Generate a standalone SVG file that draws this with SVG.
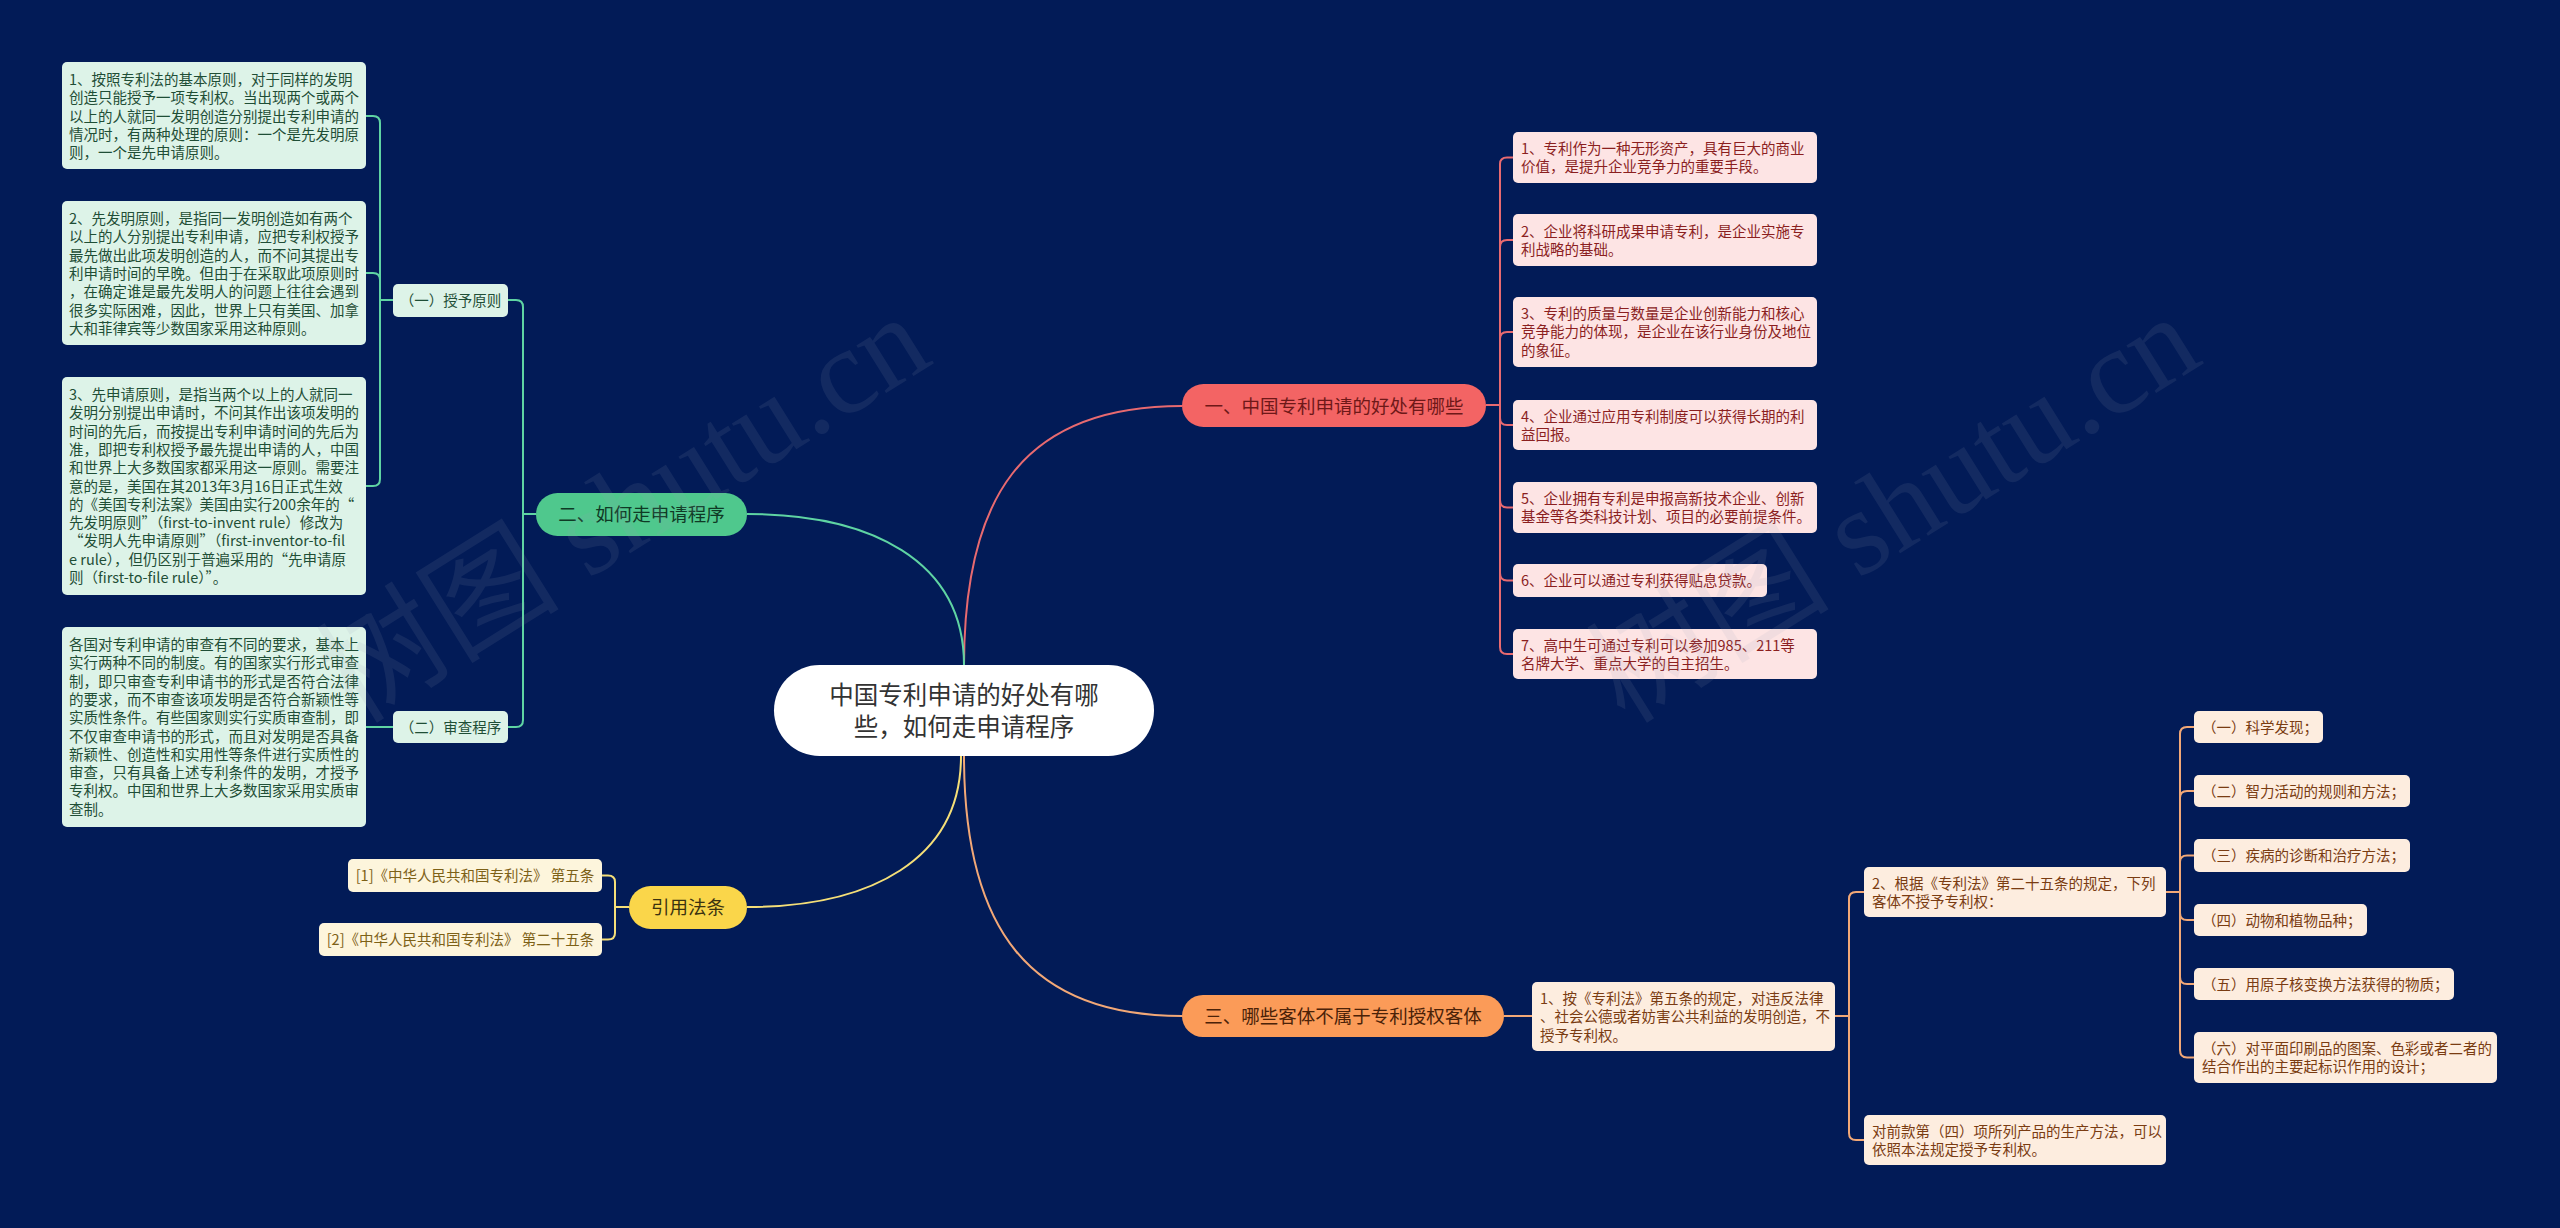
<svg xmlns="http://www.w3.org/2000/svg" width="2560" height="1228" viewBox="0 0 2560 1228">
<style>
text{font-family:'Noto Sans CJK SC','Noto Sans',sans-serif;}
.t{font-size:14.5px;}
.l1{font-size:18.5px;text-anchor:middle;}
.ln{fill:none;stroke-width:2;}
.lr{stroke:#e86a70;}
.lg{stroke:#5fd4a3;}
.ly{stroke:#f5df78;}
.lo{stroke:#f2a877;}
.br{fill:#fde4e4;}
.tr{fill:#8b1f1f;}
.bgr{fill:#ddf3e8;}
.tg{fill:#1f4e36;}
.by{fill:#fdf5dc;}
.ty{fill:#7d6117;}
.bo{fill:#fdeddf;}
.to{fill:#7a3c12;}
.wm{font-family:'Liberation Serif','Noto Sans CJK SC',serif;font-size:122px;fill:#9aa3b8;opacity:0.11;}
</style>
<rect width="2560" height="1228" fill="#021b57"/>

<g id="connectors">
<path class="ln lr" d="M964,666 C964,500 1020,406 1182,406"/>
<path class="ln lg" d="M747,514 C870,514 964,560 964,665"/>
<path class="ln ly" d="M747,907 C870,907 961,860 961,756"/>
<path class="ln lo" d="M964,756 C964,930 1030,1016 1182,1016"/>
<path class="ln lr" d="M1486,405 H1500 V164 Q1500,157.5 1507,157.5 H1513"/>
<path class="ln lr" d="M1486,405 H1500 V247 Q1500,240 1507,240 H1513"/>
<path class="ln lr" d="M1486,405 H1500 V339 Q1500,332 1507,332 H1513"/>
<path class="ln lr" d="M1486,405 H1500 V418 Q1500,425 1507,425 H1513"/>
<path class="ln lr" d="M1486,405 H1500 V500 Q1500,507.5 1507,507.5 H1513"/>
<path class="ln lr" d="M1486,405 H1500 V573 Q1500,580.5 1507,580.5 H1513"/>
<path class="ln lr" d="M1486,405 H1500 V647 Q1500,654 1507,654 H1513"/>
<path class="ln lg" d="M536,514 H523 V307 Q523,300 516,300 H508"/>
<path class="ln lg" d="M536,514 H523 V720 Q523,727 516,727 H508"/>
<path class="ln lg" d="M393,300 H380 V123 Q380,116 373,116 H366"/>
<path class="ln lg" d="M393,300 H380 V280 Q380,273 373,273 H366"/>
<path class="ln lg" d="M393,300 H380 V479 Q380,486 373,486 H366"/>
<path class="ln lg" d="M393,727 H366"/>
<path class="ln ly" d="M629,907 H615 V882 Q615,875.5 608,875.5 H602"/>
<path class="ln ly" d="M629,907 H615 V933 Q615,939.5 608,939.5 H602"/>
<path class="ln lo" d="M1504,1016 H1532"/>
<path class="ln lo" d="M1835,1016 H1849 V899 Q1849,892 1856,892 H1864"/>
<path class="ln lo" d="M1835,1016 H1849 V1133 Q1849,1140 1856,1140 H1864"/>
<path class="ln lo" d="M2166,892 H2180 V734 Q2180,727 2187,727 H2194"/>
<path class="ln lo" d="M2166,892 H2180 V798 Q2180,791 2187,791 H2194"/>
<path class="ln lo" d="M2166,892 H2180 V862 Q2180,855.5 2187,855.5 H2194"/>
<path class="ln lo" d="M2166,892 H2180 V913 Q2180,920 2187,920 H2194"/>
<path class="ln lo" d="M2166,892 H2180 V977 Q2180,984 2187,984 H2194"/>
<path class="ln lo" d="M2166,892 H2180 V1050 Q2180,1057.5 2187,1057.5 H2194"/>
</g>

<g id="root">
<rect x="774" y="665" width="380" height="91" rx="45.5" fill="#ffffff"/>
<text x="964" y="704" font-size="24.5" text-anchor="middle" fill="#333333">中国专利申请的好处有哪</text>
<text x="964" y="736" font-size="24.5" text-anchor="middle" fill="#333333">些，如何走申请程序</text>
</g>

<g id="n-red">
<rect x="1182" y="384" width="304" height="43" rx="21.5" fill="#f36464"/>
<text class="l1" x="1334" y="412.5" fill="#6e1818">一、中国专利申请的好处有哪些</text>
</g>
<g id="r1"><rect class="br" x="1513" y="132" width="304" height="51" rx="5"/>
<text class="t tr"><tspan x="1521" y="154">1、专利作为一种无形资产，具有巨大的商业</tspan><tspan x="1521" y="172.3">价值，是提升企业竞争力的重要手段。</tspan></text></g>
<g id="r2"><rect class="br" x="1513" y="214" width="304" height="52" rx="5"/>
<text class="t tr"><tspan x="1521" y="236.5">2、企业将科研成果申请专利，是企业实施专</tspan><tspan x="1521" y="254.8">利战略的基础。</tspan></text></g>
<g id="r3"><rect class="br" x="1513" y="297" width="304" height="70" rx="5"/>
<text class="t tr"><tspan x="1521" y="319">3、专利的质量与数量是企业创新能力和核心</tspan><tspan x="1521" y="337.3">竞争能力的体现，是企业在该行业身份及地位</tspan><tspan x="1521" y="355.6">的象征。</tspan></text></g>
<g id="r4"><rect class="br" x="1513" y="400" width="304" height="50" rx="5"/>
<text class="t tr"><tspan x="1521" y="421.5">4、企业通过应用专利制度可以获得长期的利</tspan><tspan x="1521" y="439.8">益回报。</tspan></text></g>
<g id="r5"><rect class="br" x="1513" y="482" width="304" height="51" rx="5"/>
<text class="t tr"><tspan x="1521" y="504">5、企业拥有专利是申报高新技术企业、创新</tspan><tspan x="1521" y="522.3">基金等各类科技计划、项目的必要前提条件。</tspan></text></g>
<g id="r6"><rect class="br" x="1513" y="564" width="254" height="33" rx="5"/>
<text class="t tr" x="1521" y="586">6、企业可以通过专利获得贴息贷款。</text></g>
<g id="r7"><rect class="br" x="1513" y="629" width="304" height="50" rx="5"/>
<text class="t tr"><tspan x="1521" y="650.5">7、高中生可通过专利可以参加985、211等</tspan><tspan x="1521" y="668.8">名牌大学、重点大学的自主招生。</tspan></text></g>

<g id="n-green">
<rect x="536" y="493" width="211" height="43" rx="21.5" fill="#4fc88d"/>
<text class="l1" x="641.5" y="521" fill="#0f3a25">二、如何走申请程序</text>
</g>
<g id="g-a"><rect class="bgr" x="393" y="284" width="115" height="33" rx="5"/>
<text class="t tg" x="450.5" y="305.5" text-anchor="middle">（一）授予原则</text></g>
<g id="g-b"><rect class="bgr" x="393" y="711" width="115" height="32" rx="5"/>
<text class="t tg" x="450.5" y="732.5" text-anchor="middle">（二）审查程序</text></g>
<g id="g1"><rect class="bgr" x="62" y="62" width="304" height="107" rx="5"/>
<text class="t tg"><tspan x="69" y="85">1、按照专利法的基本原则，对于同样的发明</tspan><tspan x="69" y="103.3">创造只能授予一项专利权。当出现两个或两个</tspan><tspan x="69" y="121.6">以上的人就同一发明创造分别提出专利申请的</tspan><tspan x="69" y="139.9">情况时，有两种处理的原则：一个是先发明原</tspan><tspan x="69" y="158.2">则，一个是先申请原则。</tspan></text></g>
<g id="g2"><rect class="bgr" x="62" y="201" width="304" height="144" rx="5"/>
<text class="t tg"><tspan x="69" y="224">2、先发明原则，是指同一发明创造如有两个</tspan><tspan x="69" y="242.3">以上的人分别提出专利申请，应把专利权授予</tspan><tspan x="69" y="260.6">最先做出此项发明创造的人，而不问其提出专</tspan><tspan x="69" y="278.9">利申请时间的早晚。但由于在采取此项原则时</tspan><tspan x="69" y="297.2">，在确定谁是最先发明人的问题上往往会遇到</tspan><tspan x="69" y="315.5">很多实际困难，因此，世界上只有美国、加拿</tspan><tspan x="69" y="333.8">大和菲律宾等少数国家采用这种原则。</tspan></text></g>
<g id="g3"><rect class="bgr" x="62" y="377" width="304" height="218" rx="5"/>
<text class="t tg"><tspan x="69" y="400">3、先申请原则，是指当两个以上的人就同一</tspan><tspan x="69" y="418.3">发明分别提出申请时，不问其作出该项发明的</tspan><tspan x="69" y="436.6">时间的先后，而按提出专利申请时间的先后为</tspan><tspan x="69" y="454.9">准，即把专利权授予最先提出申请的人，中国</tspan><tspan x="69" y="473.2">和世界上大多数国家都采用这一原则。需要注</tspan><tspan x="69" y="491.5">意的是，美国在其2013年3月16日正式生效</tspan><tspan x="69" y="509.8">的《美国专利法案》美国由实行200余年的“</tspan><tspan x="69" y="528.1">先发明原则”（first-to-invent rule）修改为</tspan><tspan x="69" y="546.4">“发明人先申请原则”（first-inventor-to-fil</tspan><tspan x="69" y="564.7">e rule），但仍区别于普遍采用的“先申请原</tspan><tspan x="69" y="583">则（first-to-file rule）”。</tspan></text></g>
<g id="g4"><rect class="bgr" x="62" y="627" width="304" height="200" rx="5"/>
<text class="t tg"><tspan x="69" y="650">各国对专利申请的审查有不同的要求，基本上</tspan><tspan x="69" y="668.3">实行两种不同的制度。有的国家实行形式审查</tspan><tspan x="69" y="686.6">制，即只审查专利申请书的形式是否符合法律</tspan><tspan x="69" y="704.9">的要求，而不审查该项发明是否符合新颖性等</tspan><tspan x="69" y="723.2">实质性条件。有些国家则实行实质审查制，即</tspan><tspan x="69" y="741.5">不仅审查申请书的形式，而且对发明是否具备</tspan><tspan x="69" y="759.8">新颖性、创造性和实用性等条件进行实质性的</tspan><tspan x="69" y="778.1">审查，只有具备上述专利条件的发明，才授予</tspan><tspan x="69" y="796.4">专利权。中国和世界上大多数国家采用实质审</tspan><tspan x="69" y="814.7">查制。</tspan></text></g>

<g id="n-yellow">
<rect x="629" y="886" width="118" height="43" rx="21.5" fill="#fad64a"/>
<text class="l1" x="688" y="914" fill="#3b3310">引用法条</text>
</g>
<g id="y1"><rect class="by" x="348" y="859" width="254" height="33" rx="5"/>
<text class="t ty" x="475" y="881" text-anchor="middle">[1]《中华人民共和国专利法》 第五条</text></g>
<g id="y2"><rect class="by" x="319" y="923" width="283" height="33" rx="5"/>
<text class="t ty" x="460.5" y="945" text-anchor="middle">[2]《中华人民共和国专利法》 第二十五条</text></g>

<g id="n-orange">
<rect x="1182" y="995" width="322" height="42" rx="21" fill="#fb9b58"/>
<text class="l1" x="1343" y="1022.5" fill="#4a2208">三、哪些客体不属于专利授权客体</text>
</g>
<g id="o1"><rect class="bo" x="1532" y="982" width="303" height="69" rx="5"/>
<text class="t to"><tspan x="1540" y="1004">1、按《专利法》第五条的规定，对违反法律</tspan><tspan x="1540" y="1022.3">、社会公德或者妨害公共利益的发明创造，不</tspan><tspan x="1540" y="1040.6">授予专利权。</tspan></text></g>
<g id="o2"><rect class="bo" x="1864" y="867" width="302" height="50" rx="5"/>
<text class="t to"><tspan x="1872" y="888.5">2、根据《专利法》第二十五条的规定，下列</tspan><tspan x="1872" y="906.8">客体不授予专利权：</tspan></text></g>
<g id="o3"><rect class="bo" x="1864" y="1115" width="302" height="50" rx="5"/>
<text class="t to"><tspan x="1872" y="1136.5">对前款第（四）项所列产品的生产方法，可以</tspan><tspan x="1872" y="1154.8">依照本法规定授予专利权。</tspan></text></g>
<g id="o2a"><rect class="bo" x="2194" y="711" width="129" height="32" rx="5"/>
<text class="t to" x="2202" y="732.5">（一）科学发现；</text></g>
<g id="o2b"><rect class="bo" x="2194" y="775" width="216" height="32" rx="5"/>
<text class="t to" x="2202" y="796.5">（二）智力活动的规则和方法；</text></g>
<g id="o2c"><rect class="bo" x="2194" y="839" width="216" height="33" rx="5"/>
<text class="t to" x="2202" y="861">（三）疾病的诊断和治疗方法；</text></g>
<g id="o2d"><rect class="bo" x="2194" y="904" width="173" height="32" rx="5"/>
<text class="t to" x="2202" y="925.5">（四）动物和植物品种；</text></g>
<g id="o2e"><rect class="bo" x="2194" y="968" width="260" height="32" rx="5"/>
<text class="t to" x="2202" y="989.5">（五）用原子核变换方法获得的物质；</text></g>
<g id="o2f"><rect class="bo" x="2194" y="1032" width="303" height="51" rx="5"/>
<text class="t to"><tspan x="2202" y="1054">（六）对平面印刷品的图案、色彩或者二者的</tspan><tspan x="2202" y="1072.3">结合作出的主要起标识作用的设计；</tspan></text></g>

<g id="watermarks">
<text class="wm" x="355" y="725" transform="rotate(-32 355 725)">树图 shutu.cn</text>
<text class="wm" x="1625" y="725" transform="rotate(-32 1625 725)">树图 shutu.cn</text>
</g>
</svg>
